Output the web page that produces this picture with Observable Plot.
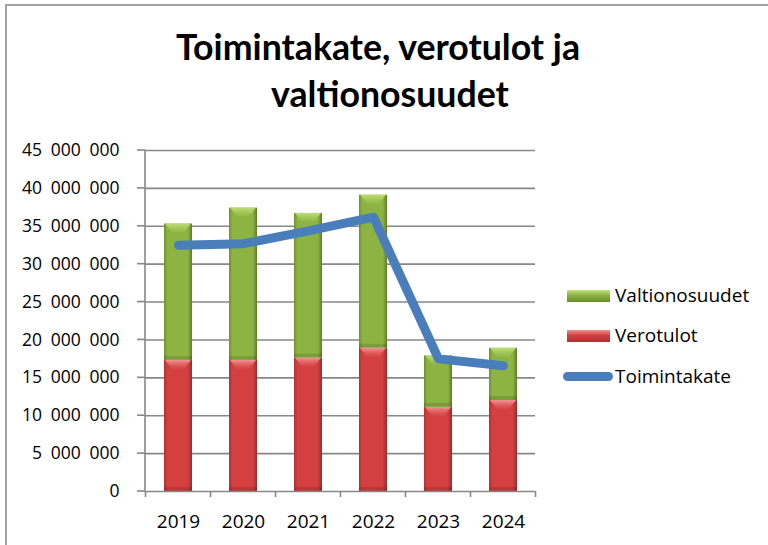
<!DOCTYPE html>
<html>
<head>
<meta charset="utf-8">
<script src="https://cdn.jsdelivr.net/npm/d3@7"></script>
<script src="https://cdn.jsdelivr.net/npm/@observablehq/plot@0.6"></script>
<style>
  html, body { margin: 0; padding: 0; background: #fff; }
  #chart { position: relative; width: 768px; height: 545px; overflow: hidden; font-family: "Open Sans", sans-serif; }
  #frame { position: absolute; left: 5px; top: 4px; width: 780px; height: 560px; border-left: 2px solid #a3a3a3; border-top: 2px solid #a3a3a3; }
  .title { position: absolute; font-family: Lato, "Open Sans", sans-serif; font-weight: bold; color: #000; white-space: nowrap; line-height: 1; }
  .leg { position: absolute; font-size: 19px; line-height: 19px; color: #000; white-space: nowrap; }
  .sw { position: absolute; }
  #plot { position: absolute; left: 0; top: 0; }
  #plot g[aria-label^="x-axis"] text { font-size: 19px; }
</style>
</head>
<body>
<div id="chart">
  <div id="frame"></div>
  <div id="plot"></div>
</div>
<script>
// ---- data ----
const years = ["2019", "2020", "2021", "2022", "2023", "2024"];
const verotulot = [17.3e6, 17.3e6, 17.6e6, 18.9e6, 11.1e6, 12.0e6];
const valtionosuudet = [18.0e6, 20.1e6, 19.1e6, 20.2e6, 6.8e6, 6.9e6];
const toimintakate = [32.5e6, 32.7e6, 34.4e6, 36.2e6, 17.5e6, 16.6e6];
const yTicks = [0, 5e6, 10e6, 15e6, 20e6, 25e6, 30e6, 35e6, 40e6, 45e6];
const seriesNames = ["Valtionosuudet", "Verotulot", "Toimintakate"];
const titleLines = ["Toimintakate, verotulot ja", "valtionosuudet"];

const barData = years.flatMap((yr, i) => [
  {year: yr, series: seriesNames[1], value: verotulot[i]},
  {year: yr, series: seriesNames[0], value: valtionosuudet[i]}
]);
const lineData = years.map((yr, i) => ({year: yr, value: toimintakate[i]}));

const fmt = v => d3.format(",")(v).replace(/,/g, "\u2002");

const plot = Plot.plot({
  width: 768,
  height: 545,
  marginLeft: 145,
  marginRight: 233,
  marginTop: 150,
  marginBottom: 54,
  style: {fontFamily: "'Open Sans', sans-serif", fontSize: "17.5px", color: "#000", background: "transparent", overflow: "visible"},
  x: {type: "band", domain: years, paddingInner: 0.57, paddingOuter: 0.285, tickSize: 0, tickPadding: 23, label: null},
  y: {domain: [0, 45e6], ticks: yTicks, tickFormat: fmt, tickSize: 0, tickPadding: 26, label: null},
  color: {domain: [seriesNames[1], seriesNames[0]], range: ["url(#gRed)", "url(#gGreen)"]},
  marks: [
    Plot.ruleY(yTicks.slice(1), {stroke: "#878787", strokeWidth: 1.6}),
    Plot.barY(barData, {x: "year", y: "value", fill: "series"}),
    Plot.ruleY([0], {stroke: "#878787", strokeWidth: 1.6}),
    Plot.line(lineData, {x: "year", y: "value", stroke: "#4a7ebb", strokeWidth: 9, strokeLinecap: "round", strokeLinejoin: "round"})
  ]
});
document.getElementById("plot").appendChild(plot);

// gradients
const svg = d3.select(plot);
const defs = svg.insert("defs", ":first-child");
function grad(id, edge, mid, edge2) {
  const g = defs.append("linearGradient").attr("id", id).attr("x1", "0").attr("x2", "1").attr("y1", "0").attr("y2", "0");
  g.append("stop").attr("offset", "0").attr("stop-color", edge);
  g.append("stop").attr("offset", "0.12").attr("stop-color", mid);
  g.append("stop").attr("offset", "0.85").attr("stop-color", mid);
  g.append("stop").attr("offset", "1").attr("stop-color", edge2);
}
grad("gGreen", "#6f8f30", "#8db443", "#5f7d24");
grad("gRed", "#ad3434", "#d43f3f", "#9a2c2c");
function vgrad(id, top, bottom) {
  const g = defs.append("linearGradient").attr("id", id).attr("x1", "0").attr("x2", "0").attr("y1", "0").attr("y2", "1");
  g.append("stop").attr("offset", "0").attr("stop-color", top).attr("stop-opacity", 0.95);
  g.append("stop").attr("offset", "1").attr("stop-color", bottom).attr("stop-opacity", 0.2);
}
vgrad("hGreen", "#c2e07a", "#a6cc5a");
vgrad("hRed", "#f49a9a", "#e26060");

// bevel highlight at the top of every bar segment (derived from Plot's rects)
svg.selectAll('g[aria-label="bar"] rect').each(function() {
  const r = d3.select(this);
  const x = +r.attr("x"), y = +r.attr("y"), w = +r.attr("width"), h = +r.attr("height");
  const isRed = (r.attr("fill") || "").includes("gRed");
  const hh = Math.min(9, h / 2);
  d3.select(this.parentNode).append("polygon")
    .attr("points", [[x + 1, y], [x + w - 1, y], [x + w * 0.72, y + hh], [x + w * 0.28, y + hh]].map(p => p.join(",")).join(" "))
    .attr("fill", isRed ? "url(#hRed)" : "url(#hGreen)");
  d3.select(this.parentNode).append("rect")
    .attr("x", x).attr("y", y + h - 4).attr("width", w).attr("height", 4)
    .attr("fill", "#000").attr("fill-opacity", 0.12);
});

// axis line and ticks from the plot's own scales
const sx = plot.scale("x"), sy = plot.scale("y");
const x0 = sx.range[0], x1 = sx.range[1];
const step = sx.step || (x1 - x0) / years.length;
const bw = sx.bandwidth || step * (1 - 0.57);
const ax = svg.append("g").attr("stroke", "#878787").attr("stroke-width", 1.6);
ax.append("line").attr("x1", x0).attr("x2", x0).attr("y1", sy.apply(45e6)).attr("y2", sy.apply(0));
yTicks.forEach(t => ax.append("line").attr("x1", x0 - 8).attr("x2", x0).attr("y1", sy.apply(t)).attr("y2", sy.apply(t)));
const bounds = years.map(yr => sx.apply(yr) - (step - bw) / 2).concat([sx.apply(years[years.length - 1]) + bw + (step - bw) / 2]);
bounds.forEach(b => ax.append("line").attr("x1", b).attr("x2", b).attr("y1", sy.apply(0)).attr("y2", sy.apply(0) + 6));
// keep the line on top
svg.selectAll('g[aria-label="line"]').raise();

// title
const chart = document.getElementById("chart");
const cv = document.createElement("canvas").getContext("2d");
cv.font = "bold 100px Lato";
const w1 = cv.measureText(titleLines[0]).width;
const fs = 100 * 405 / w1;
const titlePos = [{cx: 378, base: 60}, {cx: 390, base: 107}];
titleLines.forEach((t, i) => {
  const d = document.createElement("div");
  d.className = "title";
  d.textContent = t;
  d.style.fontSize = fs + "px";
  chart.appendChild(d);
  const w = d.getBoundingClientRect().width;
  d.style.left = (titlePos[i].cx - w / 2) + "px";
  d.style.top = (titlePos[i].base - fs * 0.86) + "px";
});

// legend
const legend = [
  {name: seriesNames[0], kind: "bar", bg: "linear-gradient(#c2e07a, #8db443 45%, #6a8a2c)", base: 303},
  {name: seriesNames[1], kind: "bar", bg: "linear-gradient(#f09090, #d43f3f 45%, #a83232)", base: 343},
  {name: seriesNames[2], kind: "line", bg: "#4a7ebb", base: 384}
];
legend.forEach(l => {
  const s = document.createElement("div");
  s.className = "sw";
  if (l.kind === "bar") {
    Object.assign(s.style, {left: "567px", top: (l.base - 13) + "px", width: "43px", height: "12px", background: l.bg});
  } else {
    Object.assign(s.style, {left: "563px", top: (l.base - 12.5) + "px", width: "50px", height: "9px", background: l.bg, borderRadius: "4.5px"});
  }
  chart.appendChild(s);
  const t = document.createElement("div");
  t.className = "leg";
  t.textContent = l.name;
  Object.assign(t.style, {left: "615px", top: (l.base - 16.9) + "px"});
  chart.appendChild(t);
});
</script>
</body>
</html>
